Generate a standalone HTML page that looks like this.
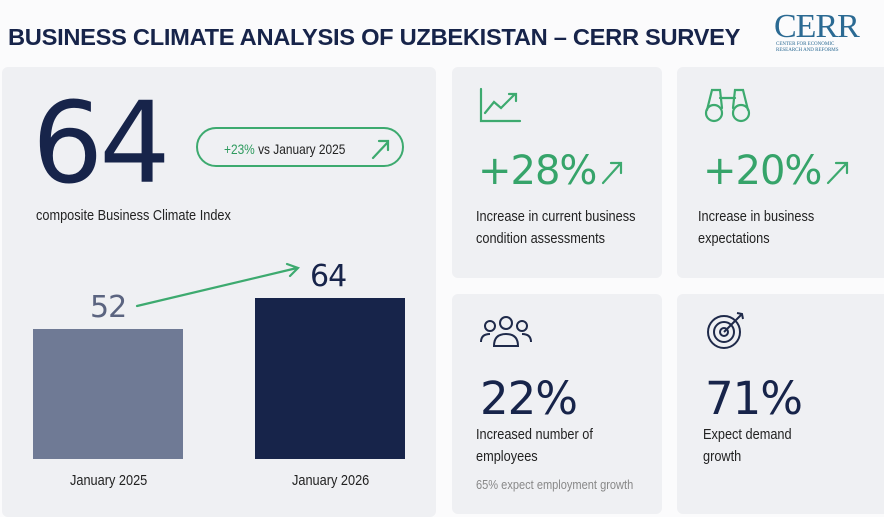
<!DOCTYPE html>
<html><head><style>
body{margin:0;width:884px;height:504px;background:#fbfbfc;font-family:"Liberation Sans",sans-serif;position:relative;overflow:hidden;color:#1a2447}
.a{position:absolute}
.card{position:absolute;background:#eff0f3;border-radius:6px}
.n{font-family:"DejaVu Sans",sans-serif;letter-spacing:-1px}
.t{font-family:"Liberation Sans Narrow","Liberation Sans",sans-serif;font-size:15px;line-height:22px;color:#222;transform:scaleX(.85);transform-origin:left}
</style></head><body>
<div class="a" style="left:8px;top:24px;font-size:23px;font-weight:900;color:#17244a;letter-spacing:-0.3px;transform:scaleX(1.03);transform-origin:left;white-space:nowrap">BUSINESS CLIMATE ANALYSIS OF UZBEKISTAN – CERR SURVEY</div>
<div class="a" style="left:774px;top:8px;font-family:'Liberation Serif',serif;font-size:34px;color:#2b6a93;letter-spacing:-1px">CERR</div>
<div class="a" style="left:776px;top:42px;font-family:'Liberation Serif',serif;font-size:5px;color:#2b6a93;line-height:6px">CENTER FOR ECONOMIC<br>RESEARCH AND REFORMS</div>

<div class="card" style="left:2px;top:67px;width:434px;height:450px"></div>
<div class="card" style="left:452px;top:67px;width:210px;height:211px"></div>
<div class="card" style="left:677px;top:67px;width:220px;height:211px"></div>
<div class="card" style="left:452px;top:294px;width:210px;height:220px"></div>
<div class="card" style="left:677px;top:294px;width:220px;height:220px"></div>

<div class="a n" style="left:32px;top:88px;font-size:112px;line-height:112px;color:#17244a;font-weight:500;letter-spacing:-4px">64</div>
<div class="a t" style="left:36px;top:205px">composite Business Climate Index</div>
<div class="a" style="left:196px;top:127px;width:208px;height:40px;border:2.5px solid #3daa6f;border-radius:22px;box-sizing:border-box"></div>
<div class="a t" style="left:224px;top:138px;font-size:14px"><span style="color:#2e9a5e">+23%</span> vs January 2025</div>
<svg class="a" style="left:0;top:0;z-index:2" width="884" height="504">
<g stroke="#3daa6f" stroke-width="2.2" fill="none" stroke-linecap="round">
<path d="M373 158 L388 142 M379 141 H388 V150"/>
<path d="M137 306 L297 268 M287 264 L298 268 L290 276"/>
<path d="M603 183 L620 164 M611 163 H621 V173"/>
<path d="M828 183 L846 164 M836 163 H847 V173"/>
<path d="M481 89 V121 H520 M485 113 L494 102 L501 108 L515 94 M509 94 H516 V101"/>
<circle cx="714" cy="113" r="8"/><circle cx="741" cy="113" r="8"/>
<path d="M707 110 L712 90 H720 L722 108 M748 110 L743 90 H735 L733 108 M720 98 H735"/>
</g>
<g stroke="#1f2a4a" stroke-width="2" fill="none">
<circle cx="506" cy="323" r="6"/><path d="M494 346 Q494 334 506 334 Q518 334 518 346 Z"/>
<circle cx="490" cy="326" r="5"/><path d="M481 342 Q481 334 490 334"/>
<circle cx="522" cy="326" r="5"/><path d="M531 342 Q531 334 522 334"/>
<circle cx="724" cy="332" r="16"/><circle cx="724" cy="332" r="10"/><circle cx="724" cy="332" r="4"/>
<path d="M724 332 L741 315 M737 313 L742 314 L743 319"/>
</g>
<rect x="33" y="329" width="150" height="130" fill="#6f7a95"/>
<rect x="255" y="298" width="150" height="161" fill="#17244a"/>
</svg>
<div class="a n" style="left:90px;top:290px;font-size:30px;color:#5b6480">52</div>
<div class="a n" style="left:310px;top:259px;font-size:30px;color:#17244a">64</div>
<div class="a t" style="left:70px;top:470px">January 2025</div>
<div class="a t" style="left:292px;top:470px">January 2026</div>

<div class="a n" style="left:478px;top:148px;font-size:40px;color:#36a46a">+28%</div>
<div class="a t" style="left:476px;top:206px">Increase in current business<br>condition assessments</div>
<div class="a n" style="left:703px;top:148px;font-size:40px;color:#36a46a">+20%</div>
<div class="a t" style="left:698px;top:206px">Increase in business<br>expectations</div>
<div class="a n" style="left:480px;top:372px;font-size:45px;color:#17244a">22%</div>
<div class="a t" style="left:476px;top:424px">Increased number of<br>employees</div>
<div class="a t" style="left:476px;top:474px;font-size:13px;color:#888">65% expect employment growth</div>
<div class="a n" style="left:705px;top:372px;font-size:45px;color:#17244a">71%</div>
<div class="a t" style="left:703px;top:424px">Expect demand<br>growth</div>
</body></html>
